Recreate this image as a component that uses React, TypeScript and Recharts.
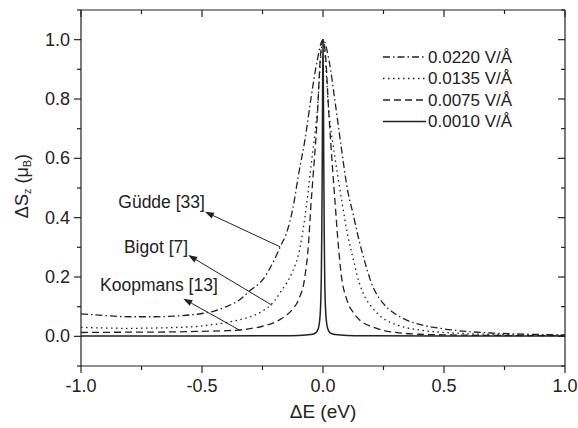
import { LineChart, Line, XAxis, YAxis, Legend, ReferenceLine, ReferenceDot } from 'recharts'

// field strengths shown in the legend
const fieldLabels = ['0.0220 V/Å', '0.0135 V/Å', '0.0075 V/Å', '0.0010 V/Å']

// 0.0220 V/Å (dash-dot)
const e0220 = [-1, -0.9, -0.8, -0.7, -0.6, -0.5, -0.45, -0.4, -0.35, -0.3, -0.25, -0.2, -0.175, -0.15, -0.125, -0.1, -0.075, -0.05, -0.025, 0, 0.025, 0.05, 0.075, 0.1, 0.125, 0.15, 0.175, 0.2, 0.25, 0.3, 0.35, 0.4, 0.5, 0.6, 0.7, 0.8, 0.9, 1]
const s0220 = [0.076, 0.07, 0.066, 0.066, 0.069, 0.077, 0.085, 0.1, 0.12, 0.155, 0.19, 0.26, 0.305, 0.35, 0.43, 0.55, 0.66, 0.8, 0.925, 1.0, 0.93, 0.79, 0.64, 0.5, 0.41, 0.32, 0.245, 0.18, 0.11, 0.075, 0.053, 0.04, 0.025, 0.016, 0.011, 0.008, 0.006, 0.005]

// 0.0135 V/Å (dotted)
const e0135 = [-1, -0.9, -0.8, -0.7, -0.6, -0.5, -0.45, -0.4, -0.35, -0.3, -0.25, -0.2, -0.175, -0.15, -0.125, -0.1, -0.075, -0.05, -0.025, 0, 0.025, 0.05, 0.075, 0.1, 0.125, 0.15, 0.175, 0.2, 0.25, 0.3, 0.4, 0.5, 0.6, 0.8, 1]
const s0135 = [0.03, 0.028, 0.027, 0.028, 0.03, 0.035, 0.04, 0.046, 0.055, 0.066, 0.085, 0.12, 0.15, 0.18, 0.22, 0.28, 0.4, 0.57, 0.75, 1.0, 0.75, 0.6, 0.47, 0.35, 0.26, 0.18, 0.13, 0.1, 0.06, 0.04, 0.021, 0.013, 0.009, 0.005, 0.003]

// 0.0075 V/Å (dashed)
const e0075 = [-1, -0.8, -0.6, -0.5, -0.4, -0.35, -0.3, -0.25, -0.2, -0.175, -0.15, -0.125, -0.1, -0.075, -0.06, -0.05, -0.04, -0.025, -0.01, 0, 0.01, 0.025, 0.04, 0.05, 0.06, 0.075, 0.1, 0.125, 0.15, 0.2, 0.25, 0.3, 0.4, 0.5, 0.7, 1]
const s0075 = [0.013, 0.014, 0.015, 0.017, 0.019, 0.021, 0.026, 0.034, 0.047, 0.058, 0.072, 0.092, 0.125, 0.2, 0.31, 0.44, 0.55, 0.72, 0.95, 1.0, 0.95, 0.74, 0.56, 0.45, 0.34, 0.21, 0.12, 0.08, 0.056, 0.033, 0.02, 0.013, 0.007, 0.005, 0.003, 0.002]

// 0.0010 V/Å (solid)
const e0010 = [-1, -0.5, -0.2, -0.1, -0.05, -0.03, -0.02, -0.015, -0.01, -0.007, -0.005, -0.003, -0.0015, 0, 0.0015, 0.003, 0.005, 0.007, 0.01, 0.015, 0.02, 0.03, 0.05, 0.1, 0.2, 0.5, 1]
const s0010 = [0.001, 0.001, 0.002, 0.003, 0.006, 0.012, 0.025, 0.045, 0.1, 0.2, 0.35, 0.6, 0.85, 1.0, 0.85, 0.6, 0.35, 0.2, 0.1, 0.045, 0.025, 0.012, 0.006, 0.003, 0.002, 0.001, 0.001]

const xTicks = [-1, -0.75, -0.5, -0.25, 0, 0.25, 0.5, 0.75, 1]
const yTicks = [-0.1, 0, 0.1, 0.2, 0.3, 0.4, 0.5, 0.6, 0.7, 0.8, 0.9, 1.0, 1.1]

// literature references pointing at the curves
const noteTexts = ['Güdde [33]', 'Bigot [7]', 'Koopmans [13]']
const noteAt = [[-0.667, 0.453], [-0.69, 0.3], [-0.678, 0.172]]
const arrowFrom = [[-0.178, 0.302], [-0.211, 0.105], [-0.343, 0.02]]
const arrowTo = [[-0.488, 0.42], [-0.557, 0.274], [-0.577, 0.127]]

const INK = '#222'
const FONT = '"Liberation Sans", Arial, sans-serif'
const TS = 8
const TM = 3

const dashes = ['7 3 1.5 3', '1.5 3.5', '7 4', undefined]
const pairs = (xs: number[], ys: number[]) => xs.map((x, i) => ({ x, y: ys[i] }))
const series = [
  pairs(e0220, s0220),
  pairs(e0135, s0135),
  pairs(e0075, s0075),
  pairs(e0010, s0010),
]

const xMajor = (v: number) => Math.round(v * 4) % 2 === 0
const yMajor = (v: number) => v > -0.05 && v < 1.05 && Math.round(v * 10) % 2 === 0

function makeTick(side: 'left' | 'right' | 'top' | 'bottom', withText: boolean) {
  return (props: any) => {
    const { x, y, payload } = props
    const v = payload.value as number
    if (side === 'left' || side === 'right') {
      const major = yMajor(v)
      const len = major ? 7 : 4
      const ax = x + TS + TM
      return (
        <g>
          <line x1={ax - len} x2={ax} y1={y} y2={y} stroke={INK} strokeWidth={1.2} />
          {withText && major && (
            <text x={ax - 11} y={y} textAnchor="end" dominantBaseline="central" fontSize={18} fill={INK} fontFamily={FONT}>
              {v.toFixed(1)}
            </text>
          )}
        </g>
      )
    }
    const major = xMajor(v)
    const len = major ? 7 : 4
    const ay = y - TS - TM
    return (
      <g>
        <line x1={x} x2={x} y1={ay} y2={ay + len} stroke={INK} strokeWidth={1.2} />
        {withText && major && (
          <text x={x} y={ay + 20} textAnchor="middle" dominantBaseline="central" fontSize={18} fill={INK} fontFamily={FONT}>
            {v.toFixed(1)}
          </text>
        )}
      </g>
    )
  }
}

const Arrow = (p: any) => {
  const { x1, y1, x2, y2 } = p
  const a = Math.atan2(y2 - y1, x2 - x1)
  const L = 9
  const W = 3.2
  const bx = x2 - L * Math.cos(a)
  const by = y2 - L * Math.sin(a)
  const pts = `${x2},${y2} ${bx + W * Math.sin(a)},${by - W * Math.cos(a)} ${bx - W * Math.sin(a)},${by + W * Math.cos(a)}`
  return (
    <g>
      <line x1={x1} y1={y1} x2={bx} y2={by} stroke={INK} strokeWidth={1} />
      <polygon points={pts} fill={INK} />
    </g>
  )
}

const LegendBox = () => (
  <svg width={190} height={90} style={{ display: 'block' }}>
    {fieldLabels.map((lab, i) => (
      <g key={lab}>
        <line x1={2} x2={45} y1={12 + i * 21.5} y2={12 + i * 21.5} stroke={INK} strokeWidth={1.3} strokeDasharray={dashes[i]} />
        <text x={47} y={12 + i * 21.5} dominantBaseline="central" fontSize={17} fill={INK} fontFamily={FONT}>
          {lab}
        </text>
      </g>
    ))}
  </svg>
)

const YTitle = () => {
  const cx = 22
  const cy = 186
  return (
    <text transform={`rotate(-90, ${cx}, ${cy})`} x={cx} y={cy} textAnchor="middle" dominantBaseline="central" fontSize={18} fill={INK} fontFamily={FONT}>
      ΔS<tspan fontSize={11} dy={5}>z</tspan>
      <tspan dy={-5}> (μ</tspan>
      <tspan fontSize={11} dy={5}>B</tspan>
      <tspan dy={-5}>)</tspan>
    </text>
  )
}

const XTitle = (props: any) => {
  const vb = props.viewBox
  return (
    <text x={vb.x + vb.width / 2} y={vb.y + 52} textAnchor="middle" fontSize={19} fill={INK} fontFamily={FONT}>
      ΔE (eV)
    </text>
  )
}

export default function App() {
  return (
    <div style={{ position: 'absolute', left: 0, top: 0, width: 578, height: 428, background: '#fff', fontFamily: FONT }}>
      <LineChart width={578} height={428} margin={{ top: 10, right: 13, bottom: 0, left: 21 }}>
        <XAxis
          dataKey="x"
          type="number"
          domain={[-1, 1]}
          ticks={xTicks}
          interval={0}
          allowDataOverflow
          height={62}
          tickSize={TS}
          tickMargin={TM}
          tickLine={false}
          tick={makeTick('bottom', true)}
          axisLine={{ stroke: INK, strokeWidth: 1.2 }}
          label={<XTitle />}
        />
        <XAxis
          xAxisId="top"
          dataKey="x"
          type="number"
          orientation="top"
          mirror
          domain={[-1, 1]}
          ticks={xTicks}
          interval={0}
          allowDataOverflow
          tickSize={TS}
          tickMargin={TM}
          tickLine={false}
          tick={makeTick('top', false)}
          axisLine={{ stroke: INK, strokeWidth: 1.2 }}
        />
        <YAxis
          type="number"
          domain={[-0.1, 1.1]}
          ticks={yTicks}
          interval={0}
          allowDataOverflow
          width={60}
          tickSize={TS}
          tickMargin={TM}
          tickLine={false}
          tick={makeTick('left', true)}
          axisLine={{ stroke: INK, strokeWidth: 1.2 }}
          label={<YTitle />}
        />
        <YAxis
          yAxisId="r"
          type="number"
          orientation="right"
          mirror
          domain={[-0.1, 1.1]}
          ticks={yTicks}
          interval={0}
          allowDataOverflow
          tickSize={TS}
          tickMargin={TM}
          tickLine={false}
          tick={makeTick('right', false)}
          axisLine={{ stroke: INK, strokeWidth: 1.2 }}
        />
        {series.map((d, i) => (
          <Line
            key={fieldLabels[i]}
            name={fieldLabels[i]}
            data={d}
            dataKey="y"
            type="monotone"
            dot={false}
            stroke={INK}
            strokeWidth={i === 3 ? 1.5 : 1.3}
            strokeDasharray={dashes[i]}
            isAnimationActive={false}
          />
        ))}
        {noteTexts.map((t, i) => (
          <ReferenceLine
            key={'a' + t}
            segment={[
              { x: arrowFrom[i][0], y: arrowFrom[i][1] },
              { x: arrowTo[i][0], y: arrowTo[i][1] },
            ]}
            shape={Arrow}
          />
        ))}
        {noteTexts.map((t, i) => (
          <ReferenceDot
            key={'t' + t}
            x={noteAt[i][0]}
            y={noteAt[i][1]}
            r={1}
            shape={(p: any) => (
              <text x={p.cx} y={p.cy} textAnchor="middle" dominantBaseline="central" fontSize={17.5} fill={INK} fontFamily={FONT}>
                {t}
              </text>
            )}
          />
        ))}
        <Legend
          layout="vertical"
          align="center"
          verticalAlign="middle"
          content={<LegendBox />}
          wrapperStyle={{ position: 'absolute', top: 45, left: 381, width: 190 }}
        />
      </LineChart>
    </div>
  )
}
